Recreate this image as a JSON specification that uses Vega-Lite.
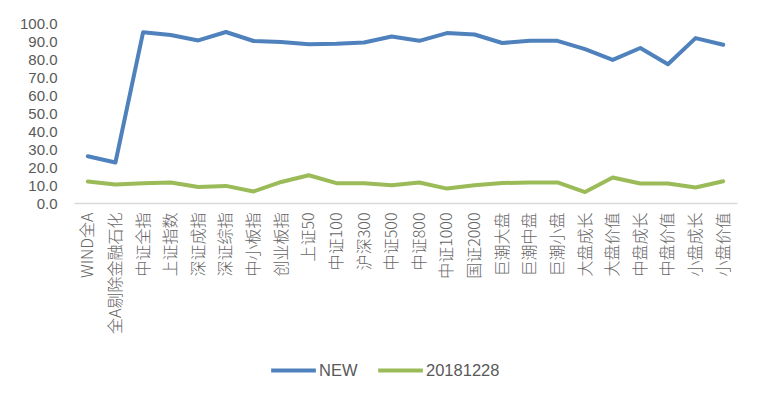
{
  "$schema": "https://vega.github.io/schema/vega-lite/v6.json",
  "autosize": {"type": "none"},
  "width": 663,
  "height": 180,
  "padding": {"left": 74, "top": 23, "right": 23, "bottom": 195},
  "background": "white",
  "config": {"view": {"stroke": null}},
  "data": {"values": [
    {"name": "WIND全A", "series": "NEW", "value": 26.0},
    {"name": "全A剔除金融石化", "series": "NEW", "value": 22.5},
    {"name": "中证全指", "series": "NEW", "value": 94.8},
    {"name": "上证指数", "series": "NEW", "value": 93.3},
    {"name": "深证成指", "series": "NEW", "value": 90.3},
    {"name": "深证综指", "series": "NEW", "value": 95.0},
    {"name": "中小板指", "series": "NEW", "value": 90.0},
    {"name": "创业板指", "series": "NEW", "value": 89.4},
    {"name": "上证50", "series": "NEW", "value": 88.2},
    {"name": "中证100", "series": "NEW", "value": 88.5},
    {"name": "沪深300", "series": "NEW", "value": 89.2},
    {"name": "中证500", "series": "NEW", "value": 92.5},
    {"name": "中证800", "series": "NEW", "value": 90.1},
    {"name": "中证1000", "series": "NEW", "value": 94.4},
    {"name": "国证2000", "series": "NEW", "value": 93.6},
    {"name": "巨潮大盘", "series": "NEW", "value": 88.9},
    {"name": "巨潮中盘", "series": "NEW", "value": 90.1},
    {"name": "巨潮小盘", "series": "NEW", "value": 90.1},
    {"name": "大盘成长", "series": "NEW", "value": 85.5},
    {"name": "大盘价值", "series": "NEW", "value": 79.5},
    {"name": "中盘成长", "series": "NEW", "value": 86.1},
    {"name": "中盘价值", "series": "NEW", "value": 77.1},
    {"name": "小盘成长", "series": "NEW", "value": 91.6},
    {"name": "小盘价值", "series": "NEW", "value": 87.9},
    {"name": "WIND全A", "series": "20181228", "value": 11.9},
    {"name": "全A剔除金融石化", "series": "20181228", "value": 10.3},
    {"name": "中证全指", "series": "20181228", "value": 11.0},
    {"name": "上证指数", "series": "20181228", "value": 11.4},
    {"name": "深证成指", "series": "20181228", "value": 8.9},
    {"name": "深证综指", "series": "20181228", "value": 9.5},
    {"name": "中小板指", "series": "20181228", "value": 6.4},
    {"name": "创业板指", "series": "20181228", "value": 11.7},
    {"name": "上证50", "series": "20181228", "value": 15.4},
    {"name": "中证100", "series": "20181228", "value": 11.0},
    {"name": "沪深300", "series": "20181228", "value": 11.0},
    {"name": "中证500", "series": "20181228", "value": 9.9},
    {"name": "中证800", "series": "20181228", "value": 11.4},
    {"name": "中证1000", "series": "20181228", "value": 8.0},
    {"name": "国证2000", "series": "20181228", "value": 9.9},
    {"name": "巨潮大盘", "series": "20181228", "value": 11.1},
    {"name": "巨潮中盘", "series": "20181228", "value": 11.4},
    {"name": "巨潮小盘", "series": "20181228", "value": 11.4},
    {"name": "大盘成长", "series": "20181228", "value": 6.1},
    {"name": "大盘价值", "series": "20181228", "value": 14.2},
    {"name": "中盘成长", "series": "20181228", "value": 10.8},
    {"name": "中盘价值", "series": "20181228", "value": 10.8},
    {"name": "小盘成长", "series": "20181228", "value": 8.6},
    {"name": "小盘价值", "series": "20181228", "value": 12.1}
  ]},
  "mark": {"type": "line", "strokeWidth": 4, "strokeCap": "round", "strokeJoin": "round"},
  "encoding": {
    "x": {
      "field": "name", "type": "nominal", "sort": null, "title": null,
      "scale": {"paddingInner": 0, "paddingOuter": 0.5},
      "axis": {
        "labelAngle": -90, "labelFont": "Noto Sans CJK SC", "labelFontSize": 16,
        "labelFontWeight": 300,
        "labelColor": "#666666", "labelPadding": 9, "ticks": false,
        "domainColor": "#d9d9d9", "domainWidth": 1.5, "grid": false, "labelLimit": 200
      }
    },
    "y": {
      "field": "value", "type": "quantitative", "title": null,
      "scale": {"domain": [0, 100], "nice": false},
      "axis": {
        "values": [0, 10, 20, 30, 40, 50, 60, 70, 80, 90, 100], "format": ".1f",
        "labelFont": "Liberation Sans", "labelFontSize": 15, "labelColor": "#595959",
        "domain": false, "ticks": false, "grid": false, "labelPadding": 17
      }
    },
    "color": {
      "field": "series", "type": "nominal", "sort": ["NEW", "20181228"],
      "scale": {"domain": ["NEW", "20181228"], "range": ["#4f81bd", "#9bbb59"]},
      "legend": {
        "title": null, "orient": "none", "direction": "horizontal",
        "legendX": 195, "legendY": 323,
        "symbolType": "stroke", "symbolSize": 2000, "symbolStrokeWidth": 4,
        "labelFont": "Liberation Sans", "labelFontSize": 16.5, "labelColor": "#595959",
        "labelOffset": 1, "columnPadding": 12
      }
    }
  }
}
